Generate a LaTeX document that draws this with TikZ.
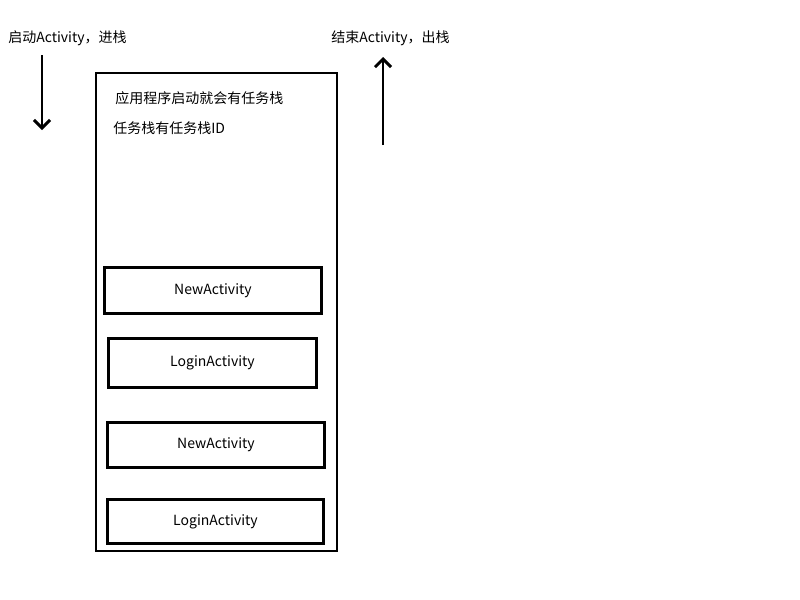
\documentclass[tikz,border=0pt]{standalone}
\usepackage{fontspec}
\setmainfont{Noto Sans CJK SC}
\usetikzlibrary{arrows.meta}
\tikzset{
  act/.style={draw, line width=2.2pt, anchor=north west, inner sep=0pt},
  lbl/.style={font=\fontsize{10.5pt}{12pt}\selectfont, inner sep=0pt},
  push/.style={line width=2.2pt, -{Straight Barb[length=6pt,width=12pt]}}
}
\begin{document}
\begin{tikzpicture}[x={(0.75pt,0)}, y={(0,-0.75pt)}]
    \useasboundingbox (0,0) rectangle (800,600);
    % task stack
    \draw[line width=2.2pt] (96,73) rectangle (337,551);
    \node[lbl, anchor=west] (info1) at (115,98) {应用程序启动就会有任务栈};
    \node[lbl, anchor=west] (info2) at (113,128) {任务栈有任务栈ID};

    \node[act, minimum width=217*0.75pt, minimum height=46*0.75pt] (new1) at (103,266) {};
    \node[lbl] at (new1.center) {NewActivity};
    \node[act, minimum width=208*0.75pt, minimum height=49*0.75pt] (login1) at (107,337) {};
    \node[lbl] at (login1.center) {LoginActivity};
    \node[act, minimum width=217*0.75pt, minimum height=45*0.75pt] (new2) at (106,421) {};
    \node[lbl] at (new2.center) {NewActivity};
    \node[act, minimum width=216*0.75pt, minimum height=44*0.75pt] (login2) at (106,498) {};
    \node[lbl] at (login2.center) {LoginActivity};

    % push / pop
    \node[lbl, anchor=west] (start) at (8,38) {启动Activity，进栈};
    \node[lbl, anchor=west] (finish) at (331,38) {结束Activity，出栈};
    \coordinate (pushtop) at (42,55);
    \coordinate (pushend) at (42,130);
    \coordinate (popbot) at (383,145);
    \coordinate (popend) at (383,57);
    \draw[push] (pushtop) -- (pushend);
    \draw[push] (popbot) -- (popend);
\end{tikzpicture}
\end{document}
